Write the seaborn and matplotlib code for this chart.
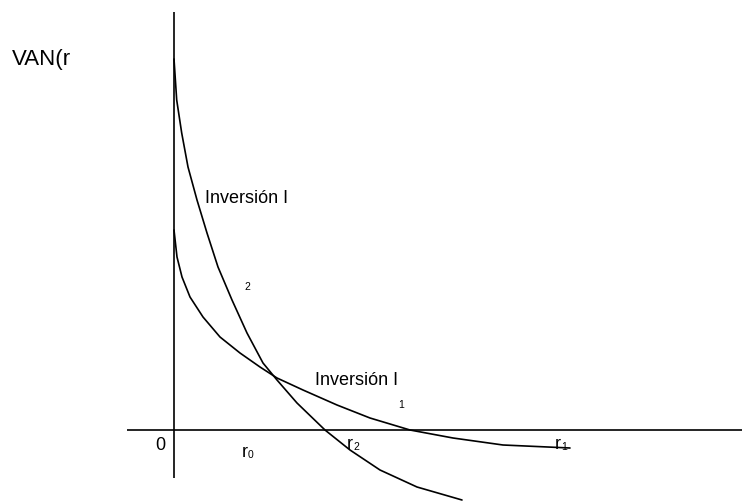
import numpy as np
import pandas as pd
import matplotlib.pyplot as plt
import seaborn as sns

# curvas VAN(r) (tasa, VAN)
tasa_i2 = [0.0, 0.27, 0.77, 1.4, 2.3, 3.3, 4.4, 5.8, 7.3, 8.9, 10.3, 12.3,
           15.1, 17.6, 20.6, 24.3, 28.8]
van_i2 = [37.1, 33.0, 29.7, 26.3, 23.0, 19.7, 16.3, 13.0, 9.7, 6.7, 5.0, 2.7,
          0.0, -2.0, -4.0, -5.7, -7.0]

tasa_i1 = [0.0, 0.3, 0.8, 1.6, 2.9, 4.6, 6.6, 8.6, 10.3, 12.9, 16.3, 19.6,
           23.6, 27.9, 32.9, 39.6]
van_i1 = [20.0, 17.3, 15.3, 13.3, 11.3, 9.3, 7.7, 6.3, 5.2, 4.0, 2.5, 1.2,
          0.0, -0.8, -1.5, -1.8]

etiquetas = ['Inversión I', 'Inversión I']
subindices = ['2', '1']

sns.set_theme(style='white')
plt.rcParams['font.family'] = ['Liberation Sans', 'DejaVu Sans']
plt.rcParams['text.color'] = 'black'

fig = plt.figure(figsize=(7.51, 5.01), dpi=100)
ax = fig.add_axes([0, 0, 1, 1])

df = pd.concat([
    pd.DataFrame({'tasa': tasa_i2, 'van': van_i2, 'inv': 'I2'}),
    pd.DataFrame({'tasa': tasa_i1, 'van': van_i1, 'inv': 'I1'}),
])
sns.lineplot(data=df, x='tasa', y='van', units='inv', estimator=None, sort=False,
             color='black', linewidth=1.2, ax=ax)

# ejes del diagrama
ax.hlines(0, -4.7, 56.8, color='black', linewidth=1.2)
ax.vlines(0, -4.8, 41.8, color='black', linewidth=1.2)

ax.set_xlim(-17.4, 57.7)
ax.set_ylim(-7.1, 43.0)
ax.axis('off')

# textos
ax.text(-16.2, 36.5, 'VAN(r', fontsize=16, va='baseline')
ax.text(3.1, 22.7, etiquetas[0], fontsize=13, va='baseline')
ax.text(7.0, 14.0, subindices[0], fontsize=7.5, va='baseline')
ax.text(14.1, 4.5, etiquetas[1], fontsize=13, va='baseline')
ax.text(22.4, 2.2, subindices[1], fontsize=7.5, va='baseline')
ax.text(-1.9, -2.0, '0', fontsize=13, va='baseline')

for x, y, s in [(6.8, -2.7, '0'), (17.3, -1.9, '2'), (38.1, -1.9, '1')]:
    ax.text(x, y, 'r', fontsize=13, va='baseline')
    ax.text(x + 0.6, y - 0.1, s, fontsize=7.5, va='baseline')

fig.savefig('out.png', dpi=100)
